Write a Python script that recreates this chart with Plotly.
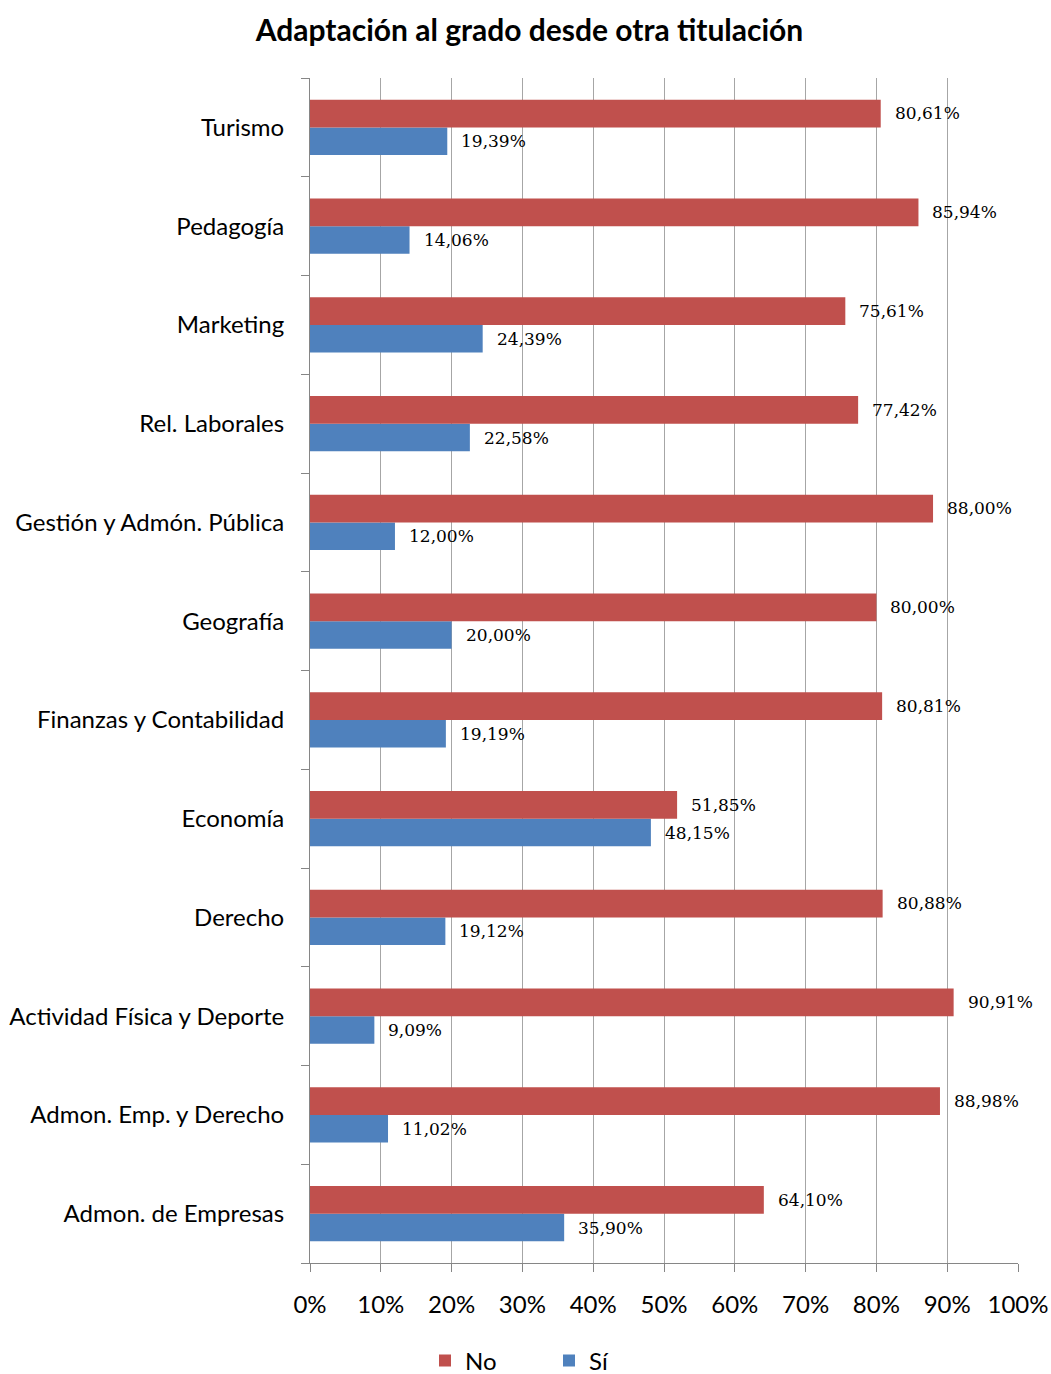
import plotly.graph_objects as go

categories = ["Admon. de Empresas", "Admon. Emp. y Derecho", "Actividad Física y Deporte",
              "Derecho", "Economía", "Finanzas y Contabilidad", "Geografía",
              "Gestión y Admón. Pública", "Rel. Laborales", "Marketing", "Pedagogía", "Turismo"]
no_vals = [64.10, 88.98, 90.91, 80.88, 51.85, 80.81, 80.00, 88.00, 77.42, 75.61, 85.94, 80.61]
si_vals = [35.90, 11.02, 9.09, 19.12, 48.15, 19.19, 20.00, 12.00, 22.58, 24.39, 14.06, 19.39]
x_ticks = [0, 10, 20, 30, 40, 50, 60, 70, 80, 90, 100]
x_tick_labels = [f"{t}%" for t in x_ticks]

RED = "#C0504D"
BLUE = "#4F81BD"
SANS = "Lato, 'Open Sans', sans-serif"
SERIF = "'DejaVu Serif', 'Liberation Serif', serif"

def fmt(v):
    return f"{v:.2f}".replace(".", ",") + "%"

fig = go.Figure()
fig.add_trace(go.Bar(y=categories, x=si_vals, name="Sí", orientation="h",
                     marker=dict(color=BLUE, line=dict(width=0)), legendrank=2))
fig.add_trace(go.Bar(y=categories, x=no_vals, name="No", orientation="h",
                     marker=dict(color=RED, line=dict(width=0)), legendrank=1))

annotations = []
for c, v in zip(categories, no_vals):
    annotations.append(dict(x=v, y=c, text=fmt(v), showarrow=False, xanchor="left",
                            yanchor="middle", xshift=12, yshift=14,
                            font=dict(family=SERIF, size=17, color="#000000")))
for c, v in zip(categories, si_vals):
    annotations.append(dict(x=v, y=c, text=fmt(v), showarrow=False, xanchor="left",
                            yanchor="middle", xshift=12, yshift=-14,
                            font=dict(family=SERIF, size=17, color="#000000")))

W, H = 1051, 1374
fig.update_layout(
    width=W, height=H,
    margin=dict(l=310, r=33, t=78, b=111, autoexpand=False),
    paper_bgcolor="white", plot_bgcolor="white",
    barmode="group", bargap=0.44, bargroupgap=0,
    title=dict(text="<b>Adaptación al grado desde otra titulación</b>",
               x=529.5 / W, xref="container", xanchor="center", y=1 - 30 / H, yref="container",
               yanchor="middle", font=dict(family=SANS, size=30, color="#000000")),
    font=dict(family=SANS, color="#000000"),
    xaxis=dict(range=[0, 100], tickvals=x_ticks, ticktext=x_tick_labels,
               showgrid=True, gridcolor="#A6A6A6", gridwidth=1,
               showline=True, linecolor="#868686", linewidth=1,
               ticks="outside", ticklen=8, tickcolor="#868686",
               tickfont=dict(family=SANS, size=24, color="#000000"),
               ticklabelstandoff=12, zeroline=False, fixedrange=True, automargin=False),
    yaxis=dict(showgrid=False, showline=True, linecolor="#868686", linewidth=1,
               ticks="outside", ticklen=8, tickcolor="#868686", tickson="boundaries",
               tickfont=dict(family=SANS, size=24, color="#000000"),
               ticklabelstandoff=20, fixedrange=True, automargin=False),
    legend=dict(orientation="h", xref="container", x=549 / W, xanchor="center",
                yref="container", y=13 / H, yanchor="middle",
                entrywidth=79, font=dict(family=SANS, size=24, color="#000000"),
                traceorder="normal"),
    annotations=annotations,
)

fig.write_html(
    "out.html",
    config={"displayModeBar": False},
    post_script="document.body.style.margin='0';document.body.style.overflow='hidden';",
)
